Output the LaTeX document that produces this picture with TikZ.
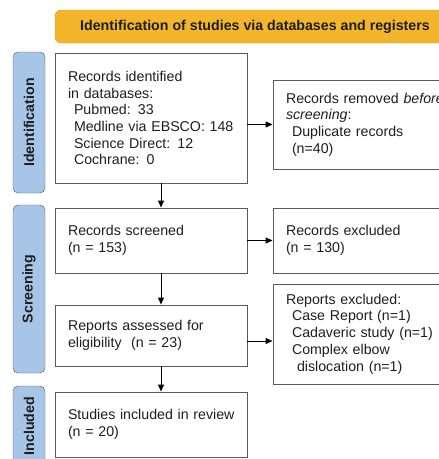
\documentclass[tikz,border=0pt]{standalone}
\usepackage{fontspec}
\setmainfont{Liberation Sans}
\usetikzlibrary{arrows.meta}
\definecolor{bannerfill}{HTML}{F2B52B}
\definecolor{bannerline}{HTML}{D99A1E}
\definecolor{phasefill}{HTML}{A7C5E7}
\definecolor{phaseline}{HTML}{4B5868}
\definecolor{boxline}{HTML}{5A5A5A}
\definecolor{ink}{HTML}{1E1E1E}
\tikzset{
  txt/.style={font=\fontsize{14.2pt}{16.7pt}\selectfont, text=ink},
  banner/.style={txt, draw=bannerline, fill=bannerfill, rounded corners=6pt,
    minimum width=400pt, minimum height=33pt, font=\fontsize{14.2pt}{16.7pt}\selectfont\bfseries},
  phase/.style={txt, draw=phaseline, fill=phasefill, rounded corners=5pt, rotate=90,
    minimum height=32pt, inner sep=0pt, font=\fontsize{14.2pt}{16.7pt}\selectfont\bfseries},
  leftbox/.style={txt, draw=boxline, line width=0.9pt, minimum width=192pt,
    text width=166pt, inner xsep=13pt, align=left},
  rightbox/.style={txt, draw=boxline, line width=0.9pt, minimum width=187pt,
    text width=161pt, inner xsep=13pt, align=left},
  arr/.style={line width=0.9pt, -{Triangle[length=7pt,width=6pt]}}
}
\begin{document}
\begin{tikzpicture}[x=1pt,y=-1pt]
\useasboundingbox (0,0) rectangle (439,459);
\clip (0,0) rectangle (439,459);
% header
\node[banner] (head) at (255,26.5) {Identification of studies via databases and registers};
% phases
\node[phase, minimum width=141pt] (phid) at (29,122.5) {Identification};
\node[phase, minimum width=168pt] (phscr) at (29,289) {Screening};
\node[phase, minimum width=80pt] (phinc) at (29,426) {Included};
% left column
\node[leftbox, minimum height=130pt] (ident) at (151,118)
  {Records identified\\in databases:\\
   \hspace*{6pt}Pubmed: 33\\
   \hspace*{6pt}\mbox{Medline via EBSCO: 148}\\
   \hspace*{6pt}Science Direct: 12\\
   \hspace*{6pt}Cochrane: 0};
\node[leftbox, minimum height=65pt] (screened) at (151,240.5)
  {Records screened\\(n = 153)};
\node[leftbox, minimum height=61pt] (assessed) at (151,335.5)
  {Reports assessed for\\eligibility\ \ (n = 23)};
\node[leftbox, minimum height=65pt] (included) at (151,424.5)
  {\mbox{Studies included in review}\\(n = 20)};
% right column
\node[rightbox, minimum height=89pt] (removed) at (366.5,124.5)
  {\mbox{Records removed \textit{before}}\\\textit{screening}:\\
   \hspace*{6pt}Duplicate records\\
   \hspace*{6pt}(n=40)};
\node[rightbox, minimum height=65pt] (excluded) at (366.5,240.5)
  {Records excluded\\(n = 130)};
\node[rightbox, minimum height=100pt] (repexcl) at (366.5,334)
  {Reports excluded:\\
   \hspace*{6pt}Case Report (n=1)\\
   \hspace*{6pt}\mbox{Cadaveric study (n=1)}\\
   \hspace*{6pt}Complex elbow\\
   \hspace*{11pt}dislocation (n=1)};
% arrows
\draw[arr] ([xshift=10pt]ident.south) -- ([xshift=10pt]screened.north);
\draw[arr] ([xshift=10pt]screened.south) -- ([xshift=10pt]assessed.north);
\draw[arr] ([xshift=10pt]assessed.south) -- ([xshift=10pt]included.north);
\draw[arr] (ident.east |- removed.west) -- (removed.west);
\draw[arr] (screened.east) -- (excluded.west);
\draw[arr] ([yshift=-5.5pt]assessed.east) -- ([yshift=-5.5pt]assessed.east -| repexcl.west);
\end{tikzpicture}
\end{document}
